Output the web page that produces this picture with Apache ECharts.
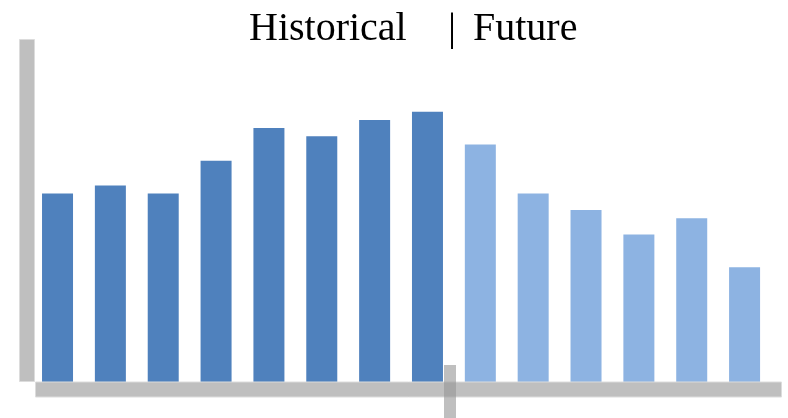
<!DOCTYPE html>
<html>
<head>
<meta charset="utf-8">
<script src="https://cdn.jsdelivr.net/npm/echarts@6/dist/echarts.min.js"></script>
<style>
  html, body { margin: 0; padding: 0; background: #fff; }
  #chart { width: 788px; height: 418px; }
</style>
</head>
<body>
<div id="chart"></div>
<script>
// Period slots along the x axis (eight historical, six projected)
const periods = ['H1', 'H2', 'H3', 'H4', 'H5', 'H6', 'H7', 'H8',
                 'F1', 'F2', 'F3', 'F4', 'F5', 'F6'];
// Historical values (null where the period is a projection)
const historical = [23, 24, 23, 27, 31, 30, 32, 33, null, null, null, null, null, null];
// Projected values (null where the period is historical)
const future = [null, null, null, null, null, null, null, null, 29, 23, 21, 18, 20, 14];
// Heading pieces
const headingParts = ['Historical', '|', 'Future'];

const AXIS_GRAY = '#BFBFBF';
const AXIS_EDGE = '#DCDCDC';

const headingStyle = {
  fontFamily: '"Liberation Serif", "DejaVu Serif", serif',
  fontSize: 40,
  fontWeight: 'normal',
  color: '#000000'
};
const headingLeft = [249, 448, 473];

const chart = echarts.init(document.getElementById('chart'), null, { renderer: 'canvas' });

chart.setOption({
  animation: false,
  backgroundColor: '#ffffff',
  title: headingParts.map((t, i) => ({
    text: t,
    left: headingLeft[i],
    top: 9,
    padding: 0,
    textStyle: headingStyle
  })),
  grid: { left: 31.1, right: 17, top: 38, bottom: 36 },
  xAxis: {
    type: 'category',
    data: periods,
    axisLine: { show: false },
    axisTick: { show: false },
    axisLabel: { show: false },
    splitLine: { show: false }
  },
  yAxis: {
    type: 'value',
    min: 0,
    max: 42,
    axisLine: { show: false },
    axisTick: { show: false },
    axisLabel: { show: false },
    splitLine: { show: false }
  },
  series: [
    {
      name: 'Historical',
      type: 'bar',
      data: historical,
      barWidth: 31,
      barGap: '-100%',
      itemStyle: { color: '#4F81BD' }
    },
    {
      name: 'Future',
      type: 'bar',
      data: future,
      barWidth: 31,
      barGap: '-100%',
      itemStyle: { color: '#8DB3E2' }
    }
  ],
  graphic: [
    // vertical axis bar
    {
      type: 'rect', z: 10,
      shape: { x: 19.5, y: 39.5, width: 15, height: 342 },
      style: { fill: AXIS_GRAY, stroke: AXIS_EDGE, lineWidth: 1 }
    },
    // horizontal axis bar
    {
      type: 'rect', z: 10,
      shape: { x: 35.5, y: 382, width: 746, height: 15 },
      style: { fill: AXIS_GRAY, stroke: AXIS_EDGE, lineWidth: 1 }
    },
    // divider between historical and projected periods
    {
      type: 'rect', z: 11,
      shape: { x: 444, y: 365, width: 12, height: 53 },
      style: { fill: 'rgba(150,150,150,0.61)' }
    }
  ]
});
</script>
</body>
</html>
